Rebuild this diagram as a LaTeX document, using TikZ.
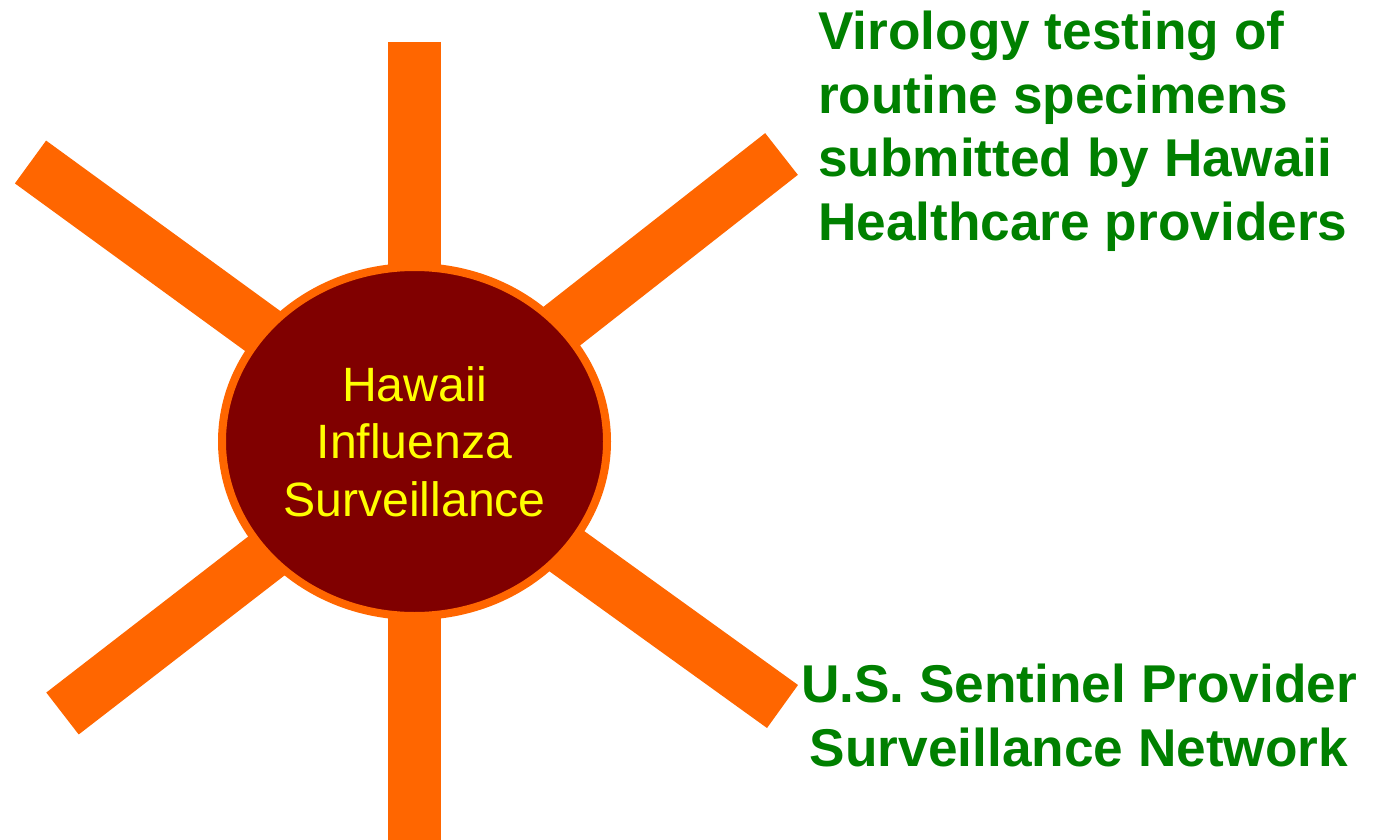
\documentclass[tikz,border=0pt]{standalone}
\usepackage{fontspec}
\setmainfont{Liberation Sans}
\usetikzlibrary{shapes,positioning,calc}
\definecolor{spokeorange}{HTML}{FF6600}
\definecolor{hubred}{HTML}{800000}
\definecolor{labelgreen}{HTML}{008000}
\definecolor{hubyellow}{HTML}{FFFF00}
\tikzset{spoke/.style={draw=spokeorange, line width=53pt, line cap=butt}}
\tikzset{hub/.style={ellipse, draw=spokeorange, fill=hubred, line width=8pt,
  minimum width=385pt, minimum height=349pt, inner sep=0,
  text=hubyellow, align=center, font=\fontsize{48.2}{57.5}\selectfont}}
\tikzset{source/.style={text=labelgreen, inner sep=0,
  font=\bfseries\fontsize{53.2}{63.6}\selectfont}}
\newcommand{\drawspoke}[1]{\draw[spoke] (#1) -- (c);}

\begin{document}
\begin{tikzpicture}[x=1pt,y=-1pt]
	\useasboundingbox (0,0) rectangle (1376,840);
	
	\coordinate (c) at (414.5,441.5);
	\coordinate (n) at (414.5,42);
	\coordinate (s) at (414.5,840);
	\coordinate (nw) at (30.5,162);
	\coordinate (ne) at (781.5,154);
	\coordinate (sw) at (62.5,713.5);
	\coordinate (se) at (782.5,706.5);
	
	\drawspoke{n}
	\drawspoke{s}
	\drawspoke{nw}
	\drawspoke{ne}
	\drawspoke{sw}
	\drawspoke{se}
	
	\node[hub] (hub) at (c) {Hawaii\\Influenza\\Surveillance};
	
	\node[source, align=left, anchor=north west] (virology) at (818,11)
		{Virology testing of\\routine specimens\\submitted by Hawaii\\Healthcare providers};
	\node[source, align=center, anchor=north] (sentinel) at (1079,664)
		{U.S. Sentinel Provider\\Surveillance Network};
	
\end{tikzpicture}
\end{document}
